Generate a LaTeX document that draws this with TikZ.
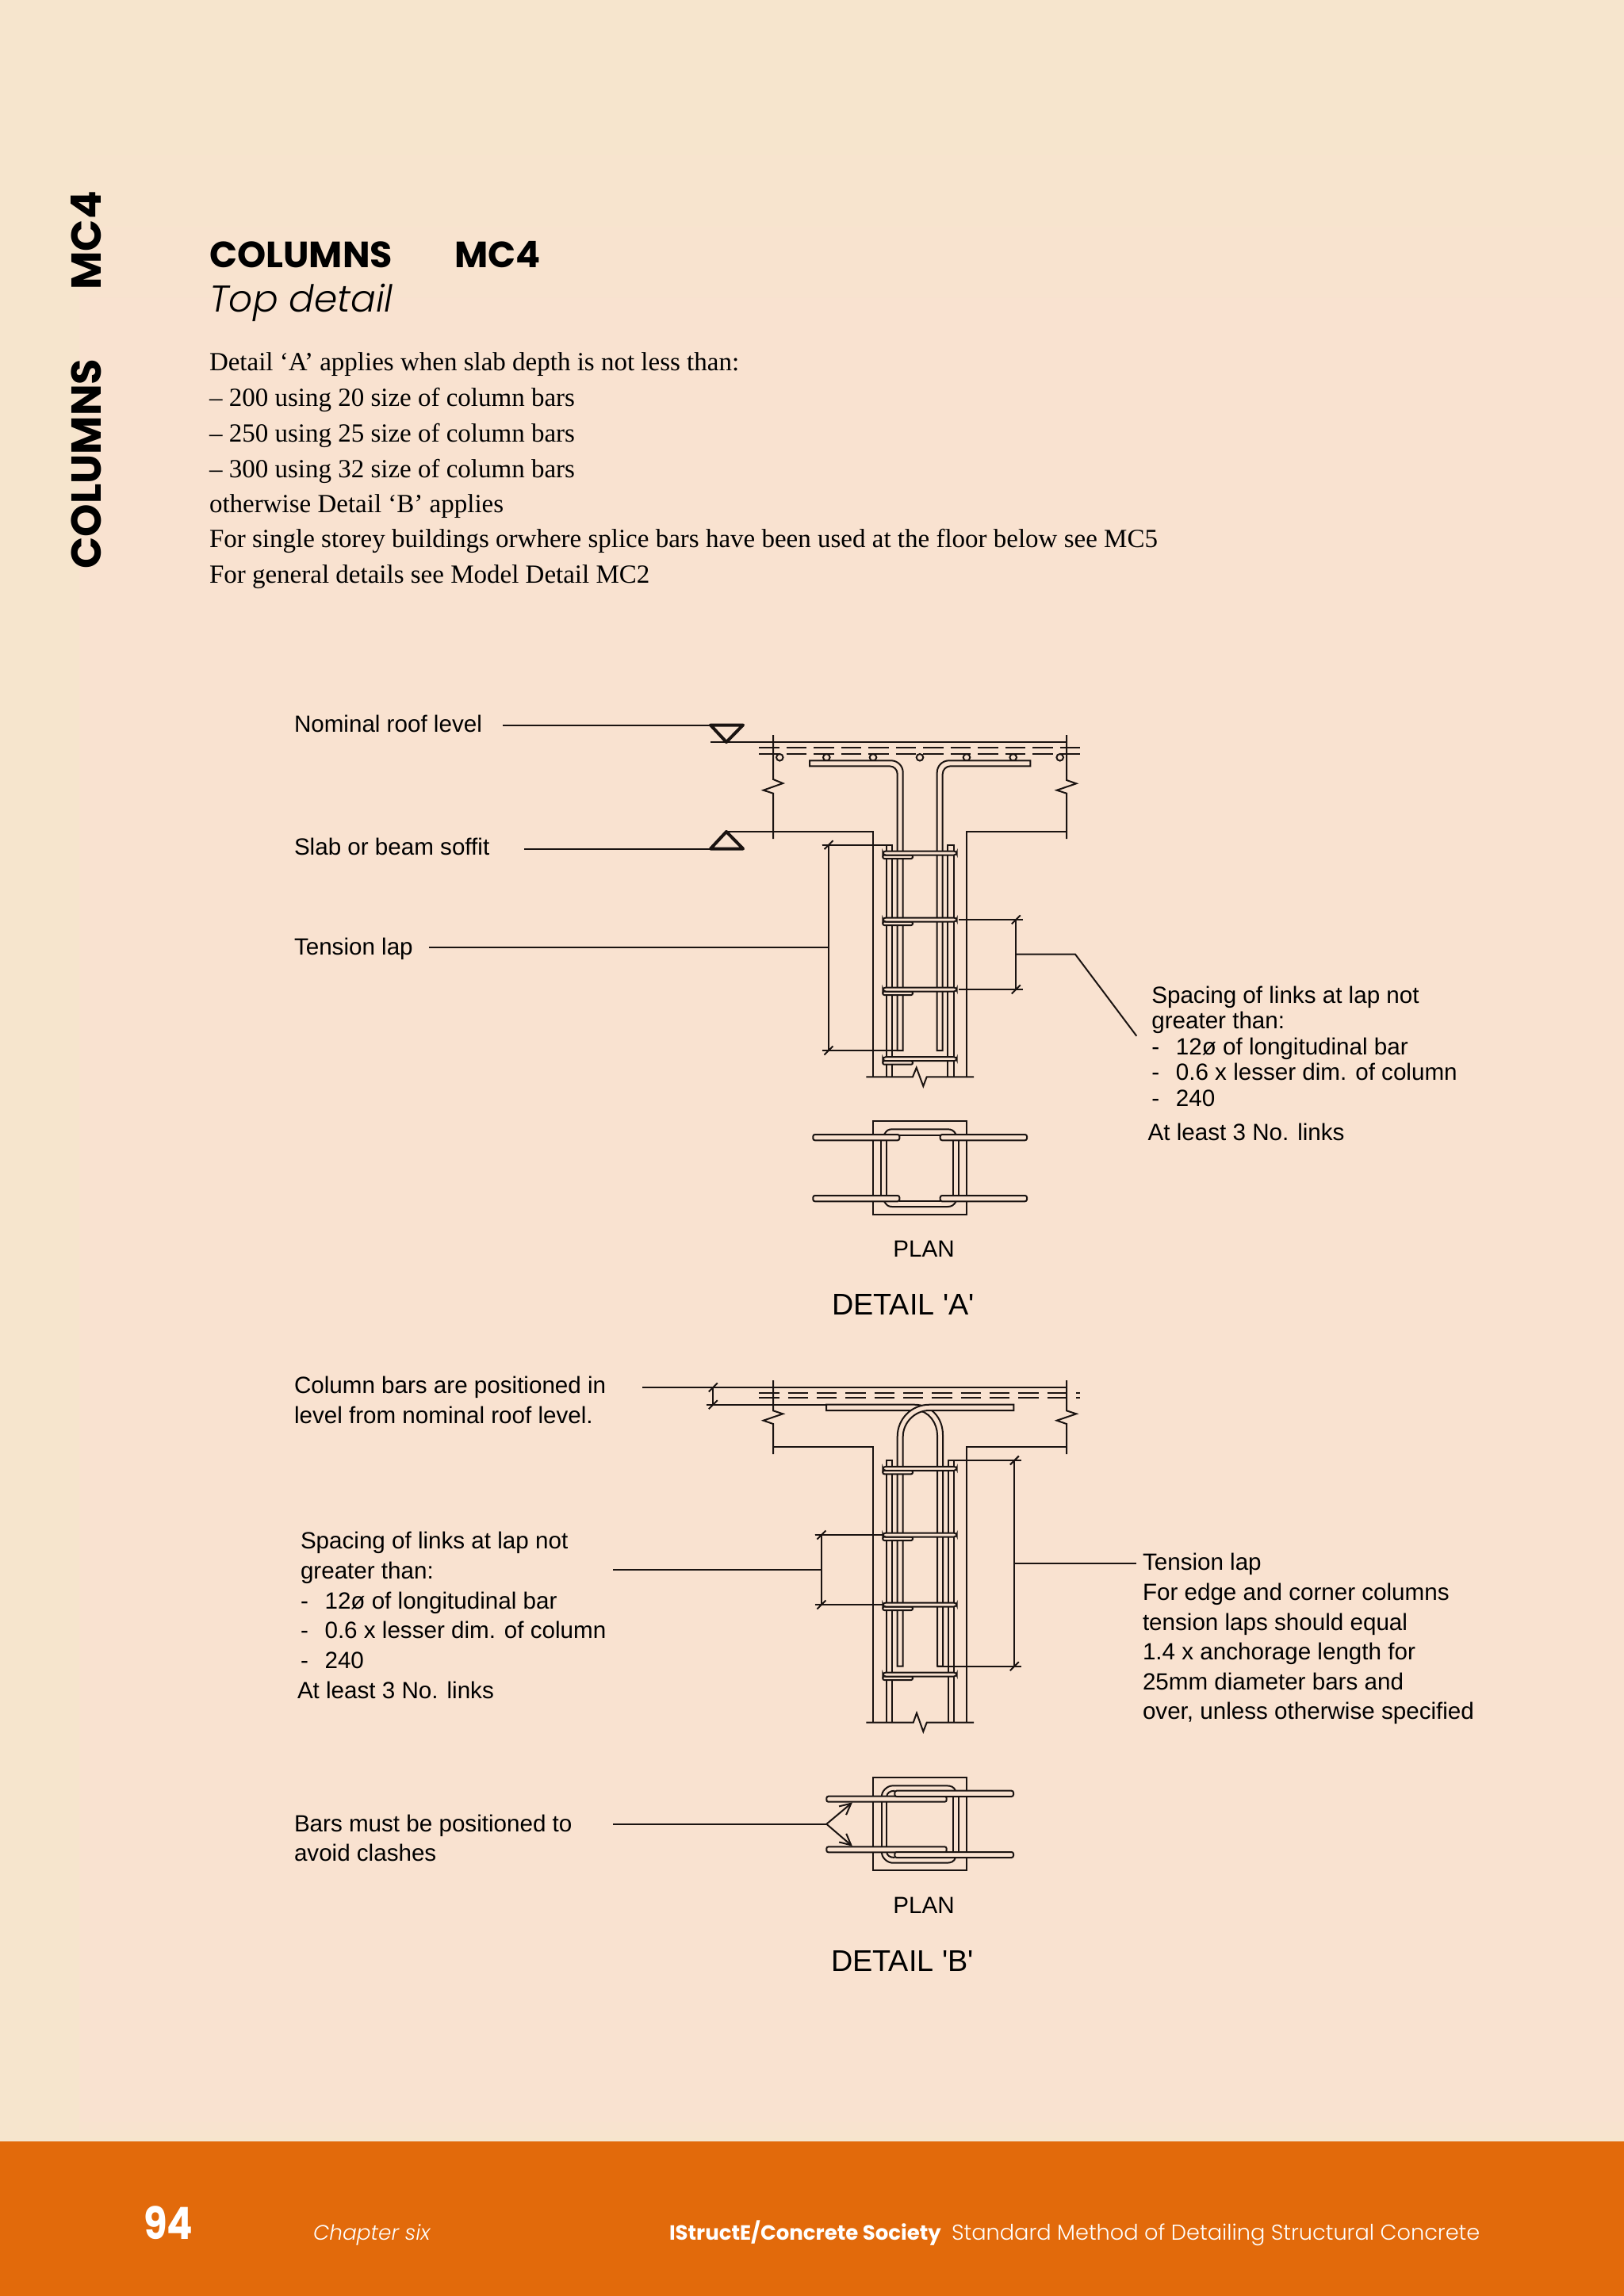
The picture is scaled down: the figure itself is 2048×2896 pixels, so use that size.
\documentclass[tikz,border=0pt]{standalone}
\usepackage{fontspec}
\usepackage{amsmath}
\usetikzlibrary{arrows.meta}
\setmainfont{Liberation Serif}
\setsansfont{Liberation Sans}
\newfontfamily\gothic{Poppins}
\newfontfamily\gothiclight{Poppins Light}
\definecolor{pagetop}{HTML}{F6E5CD}
\definecolor{pagebody}{HTML}{F9E2D0}
\definecolor{bandorange}{HTML}{E26A0B}
\definecolor{inkblack}{HTML}{1A1311}
\tikzset{
    label text/.style={anchor=base west,inner sep=0pt,outer sep=0pt,align=left,text=black,font=\sffamily\fontsize{14.8}{18.85}\selectfont},
    body text/.style={anchor=base west,inner sep=0pt,outer sep=0pt,text=black,font=\rmfamily\fontsize{16.5}{22}\selectfont},
    detail title/.style={anchor=base west,inner sep=0pt,outer sep=0pt,text=black,font=\sffamily\fontsize{18.9}{22}\selectfont},
    foot text/.style={anchor=base west,inner sep=0pt,outer sep=0pt,text=white,font=\gothiclight\fontsize{13.6}{16}\selectfont},
    margin text/.style={rotate=90,anchor=base west,inner sep=0pt,font=\gothic\bfseries\fontsize{26.4}{30}\selectfont},
    head text/.style={anchor=base west,inner sep=0pt,font=\gothic\bfseries\fontsize{23}{26}\selectfont},
    detail/.style={line width=1pt,draw=inkblack},
    level mark/.style={line width=2pt,draw=inkblack,line join=round},
    bar/.style={detail,fill=pagebody}
}
% one link: the rod and the hook below it
\newcommand{\linkrod}[1]{
    \draw[bar,rounded corners=1pt] (1113.3,#1+2.5) rectangle (1151,#1+7);
    \draw[bar,rounded corners=1.8pt] (1113.3,#1-2.5) rectangle (1206.7,#1+2.5);
}
\newcommand{\dimtick}[2]{
    \draw[detail] (#1-5.5,#2+5.5) -- (#1+5.5,#2-5.5);
}
\begin{document}
\begin{tikzpicture}[x=.5pt,y=-.5pt]
        \useasboundingbox (0,0) rectangle (2048,2896);
        \fill[pagetop] (0,0) rectangle (2048,2896);
        \shade[top color=pagetop,bottom color=pagebody] (100,150) rectangle (2048,420);
        \fill[pagebody] (100,420) rectangle (2048,2670);
        \shade[top color=pagebody,bottom color=pagetop] (100,2670) rectangle (2048,2700);
        \fill[bandorange] (0,2700.5) rectangle (2048,2896);

        % margin and headings
        \node[margin text] (margincol) at (127,718) {COLUMNS};
        \node[margin text] (marginmc) at (127,366) {MC4};
        \node[head text] (title) at (264,337) {COLUMNS};
        \node[head text] (titlemc) at (573,337) {MC4};
        \node[head text,font=\gothiclight\itshape\fontsize{23.5}{26}\selectfont] (subtitle) at (264,393) {Top detail};

        \node[body text] (para1) at (264,467) {Detail ‘A’ applies when slab depth is not less than:};
        \node[body text] (para2) at (264,512) {– 200 using 20 size of column bars};
        \node[body text] (para3) at (264,557) {– 250 using 25 size of column bars};
        \node[body text] (para4) at (264,602) {– 300 using 32 size of column bars};
        \node[body text] (para5) at (264,646) {otherwise Detail ‘B’ applies};
        \node[body text] (para6) at (264,690) {For single storey buildings orwhere splice bars have been used at the floor below see MC5};
        \node[body text] (para7) at (264,735) {For general details see Model Detail MC2};

        % detail A, section
        \draw[detail] (896,936) -- (1345,936);
        \draw[detail] (975,927) -- (975,983) -- (987.3,988) -- (962.7,996.7) -- (975,1000.7) -- (975,1058);
        \draw[detail] (1345,927) -- (1345,984) -- (1357.3,988.3) -- (1332.7,996.7) -- (1345,1000.7) -- (1345,1058);
        \draw[detail,dash pattern=on 12.85pt off 4.4pt] (957,943.3) -- (1363,943.3);
        \draw[detail,dash pattern=on 12.85pt off 4.4pt] (957,951) -- (1363,951);
        \foreach \barx in {983.3,1042.3,1101,1160,1219,1277.7,1336.7}
            \draw[detail] (\barx,955.3) circle[radius=4.3];
        \draw[detail] (916,1049) -- (1101.3,1049) -- (1101.3,1358.3);
        \draw[detail] (1345,1049) -- (1219,1049) -- (1219,1358.3);
        \draw[detail] (1092.3,1358.3) -- (1151,1358.3) -- (1155.7,1346.7) -- (1164.3,1370) -- (1168.7,1358.3) -- (1228,1358.3);
        \draw[detail] (1117.7,1358.3) -- (1117.7,1065.7) -- (1125,1065.7) -- (1125,1358.3);
        \draw[detail] (1195.3,1358.3) -- (1195.3,1065.7) -- (1202.7,1065.7) -- (1202.7,1358.3);
        \draw[bar] (1021,959.3) [rounded corners=7.5pt] -- (1138.7,959.3) [sharp corners] -- (1138.7,1325) -- (1131.7,1325) [rounded corners=5pt] -- (1131.7,966.3) [sharp corners] -- (1021,966.3) -- cycle;
        \draw[bar] (1299.3,959.3) [rounded corners=7.5pt] -- (1181.7,959.3) [sharp corners] -- (1181.7,1325) -- (1188.7,1325) [rounded corners=5pt] -- (1188.7,966.3) [sharp corners] -- (1299.3,966.3) -- cycle;
        \foreach \linky in {1076,1160,1248,1335.7}
            \linkrod{\linky}
        % detail A, dimensions
        \draw[detail] (1036.7,1065.7) -- (1125,1065.7);
        \draw[detail] (1036.7,1325) -- (1131.7,1325);
        \draw[detail] (1045,1065.7) -- (1045,1325);
        \dimtick{1045}{1065.7}
        \dimtick{1045}{1325}
        \draw[detail] (1209.3,1160) -- (1290,1160);
        \draw[detail] (1209.3,1248) -- (1290,1248);
        \draw[detail] (1281.3,1160) -- (1281.3,1248);
        \dimtick{1281.3}{1160}
        \dimtick{1281.3}{1248}
        % detail A, level marks
        \coordinate (rooftip) at (916,936);
        \coordinate (rooftop) at (896,914.5);
        \coordinate (soffittip) at (916,1049);
        \coordinate (soffitbase) at (896,1070.5);
        \draw[level mark] (rooftip) -- (rooftop) -- (937,914.5) -- cycle;
        \draw[level mark] (soffittip) -- (soffitbase) -- (937,1070.5) -- cycle;
        % detail A, labels
        \node[label text] (roofnote) at (371,923) {Nominal roof level};
        \node[label text] (soffitnote) at (371,1078) {Slab or beam soffit};
        \node[label text] (lapnote) at (371,1204) {Tension lap};
        \coordinate (lapdim) at (1045,1195);
        \coordinate (linkdim) at (1281.3,1203.7);
        \coordinate (linkknee) at (1356,1203.7);
        \coordinate (linkend) at (1433.3,1306.7);
        \draw[detail] ([xshift=13pt]roofnote.east |- rooftop) -- (rooftop);
        \draw[detail] ([xshift=22pt]soffitnote.east |- soffitbase) -- (soffitbase);
        \draw[detail] ([xshift=10pt]lapnote.east |- lapdim) -- (lapdim);
        \draw[detail] (linkdim) -- (linkknee) -- (linkend);
        \node[label text] (linknote) at (1452.3,1265) {Spacing of links at lap not};
        \node[label text] (linknotetwo) at (1452.3,1297.7) {greater than:};
        \node[label text] (linknotethree) at (1452.3,1330) {-\hspace{.7em}12ø of longitudinal bar};
        \node[label text] (linknotefour) at (1452.3,1362.7) {-\hspace{.7em}0.6 x lesser dim. of column};
        \node[label text] (linknotefive) at (1452.3,1395.3) {-\hspace{.7em}240};
        \node[label text] (linkcount) at (1447.7,1438.3) {At least 3 No. links};

        % detail A, plan
        \draw[detail] (1101,1414) rectangle (1219.3,1532);
        \draw[detail] (1111,1438.3) -- (1111,1508);
        \draw[detail] (1118.3,1438.3) -- (1118.3,1508);
        \draw[detail] (1202.3,1438.3) -- (1202.3,1508);
        \draw[detail] (1209.3,1438.3) -- (1209.3,1508);
        \draw[detail] (1115,1431) .. controls (1118,1426) and (1120,1424.3) .. (1125,1424.3) -- (1195,1424.3) .. controls (1200,1424.3) and (1203,1426) .. (1205.7,1431);
        \draw[detail] (1115,1515.3) .. controls (1118,1520) and (1120,1522) .. (1125,1522) -- (1195,1522) .. controls (1200,1522) and (1203,1520) .. (1205.7,1515.3);
        \draw[detail] (1134.3,1431.7) -- (1185.7,1431.7);
        \draw[detail] (1134.3,1515) -- (1185.7,1515);
        \foreach \bary in {1431,1508} {
            \draw[bar,rounded corners=1.2pt] (1025.3,\bary) rectangle (1134.3,\bary+7.3);
            \draw[bar,rounded corners=1.2pt] (1185.7,\bary) rectangle (1295,\bary+7.3);
        }
        \node[label text,anchor=base] (plana) at (1165,1585) {PLAN};
        \node[detail title] (detaila) at (1049,1658) {DETAIL \textquotesingle A\textquotesingle};

        % detail B, section
        \draw[detail] (811,1750) -- (1345,1750);
        \draw[detail] (890.7,1771.7) -- (1153,1771.7);
        \draw[detail] (899.3,1750) -- (899.3,1771.7);
        \dimtick{899.3}{1750}
        \dimtick{899.3}{1771.7}
        \draw[detail] (975,1741) -- (975,1779.3) -- (987.3,1783.3) -- (962.7,1791.7) -- (975,1796) -- (975,1834);
        \draw[detail] (1345,1741) -- (1345,1779.3) -- (1357.3,1783.3) -- (1332.7,1791.7) -- (1345,1796) -- (1345,1834);
        \draw[detail,dash pattern=on 12.67pt off 5.5pt] (957.3,1757.3) -- (1362.3,1757.3);
        \draw[detail,dash pattern=on 12.67pt off 5.5pt] (957.3,1763.3) -- (1362.3,1763.3);
        \draw[detail] (975,1825) -- (1101,1825) -- (1101,2172.7);
        \draw[detail] (1345,1825) -- (1219,1825) -- (1219,2172.7);
        \draw[detail] (1092.3,2172.7) -- (1151.7,2172.7) -- (1156,2160.7) -- (1164.3,2184) -- (1168.7,2172.7) -- (1228,2172.7);
        \draw[detail] (1117.7,2172.7) -- (1117.7,1842) -- (1125,1842) -- (1125,2172.7);
        \draw[detail] (1195.7,2172.7) -- (1195.7,1842) -- (1202.7,1842) -- (1202.7,2172.7);
        \draw[bar] (1042,1771.7) -- (1153,1771.7) .. controls (1174,1771.7) and (1189,1788) .. (1189,1810) -- (1189,2101.7) -- (1182,2101.7) -- (1182,1810) .. controls (1182,1796) and (1172,1779) .. (1155,1779) -- (1042,1779) -- cycle;
        \draw[bar] (1278.3,1771.7) -- (1172,1771.7) .. controls (1149,1771.7) and (1131.7,1790) .. (1131.7,1812) -- (1131.7,2101.7) -- (1138.7,2101.7) -- (1138.7,1812) .. controls (1138.7,1795) and (1153,1779) .. (1172,1779) -- (1278.3,1779) -- cycle;
        \foreach \linky in {1852.3,1936,2024,2112}
            \linkrod{\linky}
        % detail B, dimensions
        \draw[detail] (1027.7,1936) -- (1114,1936);
        \draw[detail] (1027.7,2024) -- (1114,2024);
        \draw[detail] (1036,1936) -- (1036,2024);
        \dimtick{1036}{1936}
        \dimtick{1036}{2024}
        \draw[detail] (1195.7,1842) -- (1288.3,1842);
        \draw[detail] (1182,2101.7) -- (1288.3,2101.7);
        \draw[detail] (1279.3,1842) -- (1279.3,2101.7);
        \dimtick{1279.3}{1842}
        \dimtick{1279.3}{2101.7}
        % detail B, labels
        \coordinate (columnlevel) at (899.3,1750);
        \coordinate (spacingdim) at (1036,1980);
        \coordinate (tensiondim) at (1279.3,1971.7);
        \node[label text] (levelnote) at (371,1757.5) {Column bars are positioned in};
        \node[label text] (levelnotetwo) at (371,1795) {level from nominal roof level.};
        \node[label text] (spacingnote) at (379,1953) {Spacing of links at lap not};
        \node[label text] (spacingnotetwo) at (379,1991) {greater than:};
        \node[label text] (spacingnotethree) at (379,2029) {-\hspace{.7em}12ø of longitudinal bar};
        \node[label text] (spacingnotefour) at (379,2066) {-\hspace{.7em}0.6 x lesser dim. of column};
        \node[label text] (spacingnotefive) at (379,2104) {-\hspace{.7em}240};
        \node[label text] (spacingcount) at (375,2142) {At least 3 No. links};
        \node[label text] (tensionnote) at (1441,1980.5) {Tension lap};
        \node[label text] (tensionnotetwo) at (1441,2018) {For edge and corner columns};
        \node[label text] (tensionnotethree) at (1441,2056) {tension laps should equal};
        \node[label text] (tensionnotefour) at (1441,2093.5) {1.4 x anchorage length for};
        \node[label text] (tensionnotefive) at (1441,2131) {25mm diameter bars and};
        \node[label text] (tensionnotesix) at (1441,2168.5) {over, unless otherwise specified};
        \node[label text] (clashnote) at (371,2310) {Bars must be positioned to};
        \node[label text] (clashnotetwo) at (371,2347) {avoid clashes};
        \draw[detail] ([xshift=23pt]levelnote.east |- columnlevel) -- (columnlevel);
        \draw[detail] ([xshift=4.5pt]spacingnotefour.east |- spacingdim) -- (spacingdim);
        \draw[detail] (tensiondim) -- ([xshift=-4pt]tensionnote.west |- tensiondim);

        % detail B, plan
        \draw[detail] (1101,2242.3) rectangle (1219.3,2359.3);
        \draw[detail] (1111.7,2272.7) -- (1111.7,2329.3);
        \draw[detail] (1118.3,2272.7) -- (1118.3,2329.3);
        \draw[detail] (1201.7,2266) -- (1201.7,2336);
        \draw[detail] (1209,2266) -- (1209,2336);
        \draw[detail] (1111.7,2265.7) .. controls (1111.7,2260) and (1118,2252.3) .. (1126,2252.3) -- (1193,2252.3) .. controls (1200,2252.3) and (1203,2254) .. (1205,2258.7);
        \draw[detail] (1118.3,2265.7) .. controls (1118.3,2262) and (1122,2258.7) .. (1128.3,2258.7);
        \draw[detail] (1111.7,2336.3) .. controls (1111.7,2342) and (1118,2349.7) .. (1126,2349.7) -- (1193,2349.7) .. controls (1200,2349.7) and (1203,2348) .. (1205,2343);
        \draw[detail] (1118.3,2336.3) .. controls (1118.3,2340) and (1122,2343) .. (1128.3,2343);
        \draw[bar,rounded corners=1.2pt] (1042.3,2265.7) rectangle (1193.7,2272.7);
        \draw[bar,rounded corners=1.2pt] (1042.3,2329.3) rectangle (1193.7,2336.3);
        \draw[bar,rounded corners=1.2pt] (1128.3,2258.7) rectangle (1278,2266);
        \draw[bar,rounded corners=1.2pt] (1128.3,2336) rectangle (1278,2343);
        \coordinate (clashfork) at (1042.3,2300.7);
        \coordinate (clashtop) at (1075,2273.3);
        \coordinate (clashbottom) at (1075,2328.7);
        \draw[detail] ([xshift=26pt]clashnote.east |- clashfork) -- (clashfork);
        \draw[detail,-{Straight Barb[length=7pt,width=7pt]}] (clashfork) -- (clashtop);
        \draw[detail,-{Straight Barb[length=7pt,width=7pt]}] (clashfork) -- (clashbottom);
        \node[label text,anchor=base] (planb) at (1165,2413) {PLAN};
        \node[detail title] (detailb) at (1048,2486) {DETAIL \textquotesingle B\textquotesingle};

        % footer
        \node[foot text,font=\gothic\bfseries\fontsize{28}{30}\selectfont] (pagenumber) at (181,2824) {\scalebox{.86}[1]{94}};
        \node[foot text,font=\gothiclight\itshape\fontsize{13.2}{16}\selectfont] (chapter) at (395,2825) {Chapter six};
        \node[foot text,font=\gothic\bfseries\fontsize{13}{16}\selectfont] (society) at (844,2825) {IStructE/Concrete Society};
        \node[foot text] (standard) at (1200,2825) {Standard Method of Detailing Structural Concrete};
    \end{tikzpicture}
\end{document}
